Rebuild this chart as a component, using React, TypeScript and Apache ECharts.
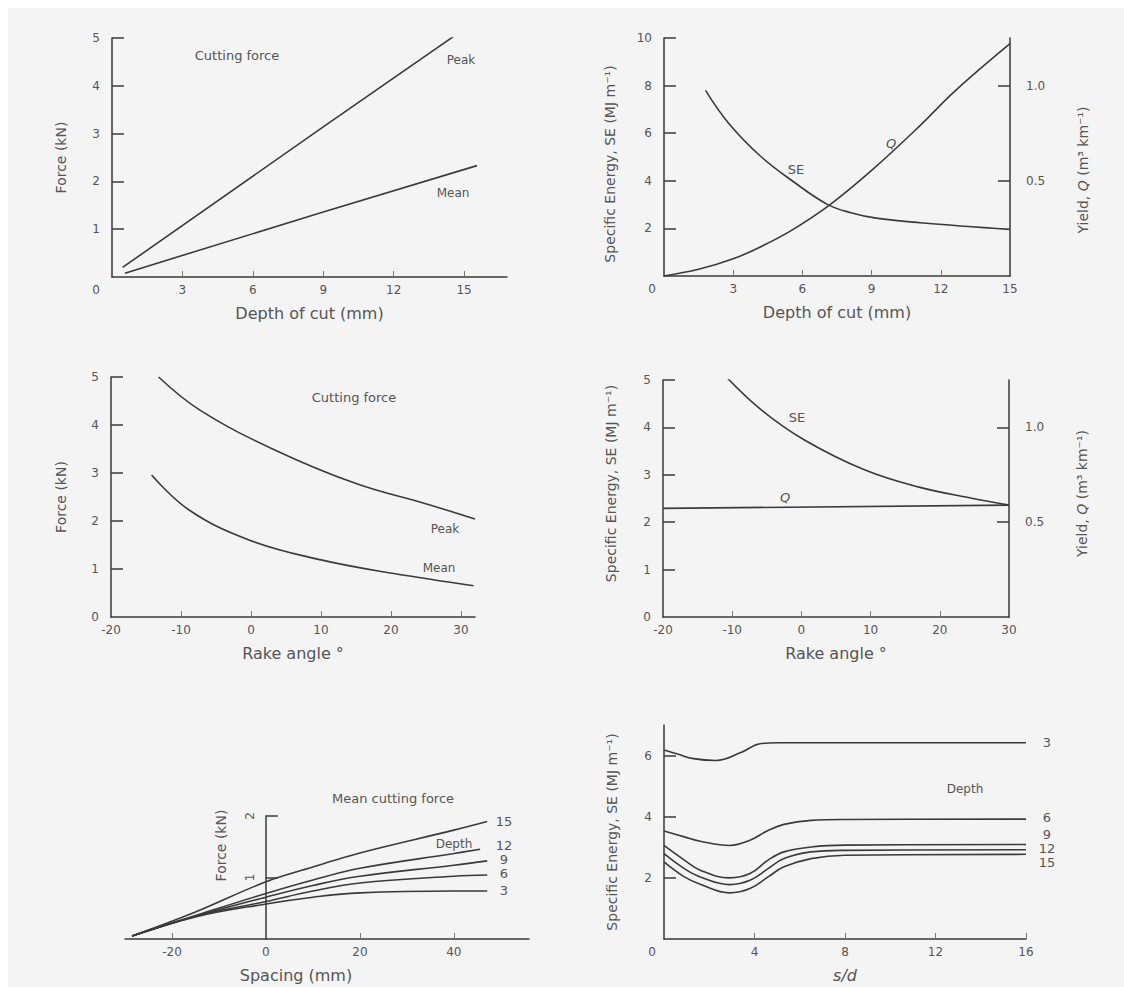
import React, { useEffect, useRef } from "react";
import * as echarts from "echarts";

const FONT = '"DejaVu Sans", "Liberation Sans", sans-serif';
const INK = "#3a3a3a";
const TEXT = "#555555";
const BG = "#f4f4f4";

// Panel A – cutting force vs depth of cut
const depthPeakX = [0.45, 9, 14.75];
const depthPeakY = [0.2, 3.14, 5.1];
const depthMeanX = [0.55, 9, 15.55];
const depthMeanY = [0.08, 1.36, 2.33];

// Panel B – specific energy & yield vs depth of cut
const depthSEX = [1.8, 2.8, 4.2, 5.6, 7.1, 8.1, 9.2, 11.1, 15];
const depthSEY = [7.8, 6.42, 5.02, 3.97, 3.0, 2.66, 2.43, 2.24, 1.96];
const depthQX = [0, 1.5, 3, 4.3, 5.6, 7.2, 9.05, 11.1, 12.6, 15];
const depthQY = [0, 0.035, 0.09, 0.16, 0.245, 0.375, 0.56, 0.79, 0.97, 1.22];

// Panel C – cutting force vs rake angle
const rakePeakX = [-13.2, -7.3, 3.4, 15, 25.2, 32];
const rakePeakY = [5.0, 4.31, 3.48, 2.78, 2.35, 2.04];
const rakeMeanX = [-14.2, -8.85, -0.2, 10, 20.2, 31.8];
const rakeMeanY = [2.96, 2.23, 1.6, 1.19, 0.91, 0.65];

// Panel D – specific energy & yield vs rake angle
const rakeSEX = [-11.1, -5.8, 0.5, 9.2, 17, 24.8, 30];
const rakeSEY = [5.1, 4.37, 3.73, 3.1, 2.74, 2.5, 2.36];
const rakeQX = [-20, 30];
const rakeQY = [0.573, 0.59];

// Panel E – mean cutting force vs spacing, by depth (mm)
const spacingX = [-28.5, -15, 0, 10, 20, 40, 47.1];
const spacingX12 = [-28.5, -15, 0, 10, 20, 40, 45.6];
const spacing15 = [0.05, 0.44, 0.93, 1.17, 1.4, 1.77, 1.91];
const spacing12 = [0.05, 0.38, 0.74, 0.96, 1.15, 1.39, 1.46];
const spacing9 = [0.05, 0.37, 0.68, 0.87, 1.02, 1.2, 1.27];
const spacing6 = [0.05, 0.37, 0.61, 0.78, 0.91, 1.02, 1.04];
const spacing3 = [0.05, 0.36, 0.57, 0.68, 0.75, 0.78, 0.78];

// Panel F – specific energy vs s/d, by depth (mm)
const sd3X = [0, 0.6, 1.3, 2.3, 3.4, 4.2, 5, 16];
const sd3Y = [6.18, 6.05, 5.9, 5.84, 6.1, 6.38, 6.42, 6.42];
const sdX = [0, 0.9, 1.6, 2.9, 3.8, 4.6, 5.3, 6.5, 8, 16];
const sd6Y = [3.53, 3.34, 3.2, 3.06, 3.23, 3.55, 3.75, 3.88, 3.91, 3.92];
const sd9Y = [3.06, 2.58, 2.25, 2.0, 2.14, 2.58, 2.85, 3.01, 3.07, 3.09];
const sd12Y = [2.79, 2.3, 2.03, 1.78, 1.92, 2.3, 2.63, 2.85, 2.9, 2.92];
const sd15Y = [2.52, 2.03, 1.79, 1.51, 1.65, 2.03, 2.36, 2.63, 2.74, 2.77];

const depthTicks = [0, 3, 6, 9, 12, 15];
const rakeTicks = [-20, -10, 0, 10, 20, 30];
const spacingTicks = [-20, 0, 20, 40];
const sdTicks = [0, 4, 8, 12, 16];

const pairs = (xs: number[], ys: number[]) => xs.map((x, i) => [x, ys[i]]);

const labelStyle = { color: TEXT, fontSize: 12, fontFamily: FONT };
const lineSt = { color: INK, width: 1.5 };

function xAxis(grid: number, min: number, max: number, labels: number[], ticks: number[], name: string, extra: any = {}) {
  return {
    type: "value",
    gridIndex: grid,
    min,
    max,
    name,
    nameLocation: "middle",
    nameGap: 28,
    nameTextStyle: { color: TEXT, fontSize: 16, fontFamily: FONT, ...(extra.nameTextStyle || {}) },
    splitLine: { show: false },
    axisLine: { show: true, onZero: false, lineStyle: lineSt },
    axisTick: { show: true, inside: true, length: 6, customValues: ticks, lineStyle: { color: "#777", width: 1 } },
    axisLabel: {
      ...labelStyle,
      margin: 7,
      customValues: labels,
      formatter: extra.zeroShift ? (v: number) => (v === 0 ? "{z|0}" : String(v)) : (v: number) => String(v),
      rich: extra.zeroShift ? { z: { ...labelStyle, padding: [0, extra.zeroShift, 0, 0] } } : undefined,
    },
  };
}

function yAxis(grid: number, min: number, max: number, labels: number[], ticks: number[], name: any, extra: any = {}) {
  return {
    type: "value",
    gridIndex: grid,
    position: extra.position || "left",
    offset: extra.offset || 0,
    min,
    max,
    name,
    nameLocation: "middle",
    nameGap: extra.nameGap ?? 44,
    nameTextStyle: {
      color: TEXT,
      fontSize: 14,
      fontFamily: FONT,
      padding: extra.namePadding,
      rich: {
        i: { fontStyle: "italic", color: TEXT, fontSize: 14, fontFamily: FONT },
      },
    },
    splitLine: { show: false },
    axisLine: { show: true, onZero: false, lineStyle: lineSt },
    axisTick: { show: true, inside: true, length: 12, customValues: ticks, lineStyle: lineSt },
    axisLabel: {
      ...labelStyle,
      margin: extra.labelMargin ?? 12,
      rotate: extra.rotate || 0,
      customValues: labels,
      formatter: extra.fixed ? (v: number) => v.toFixed(1) : (v: number) => String(v),
    },
  };
}

function line(name: string, xi: number, yi: number, data: number[][], smooth: any = 0.4) {
  return {
    type: "line",
    name,
    xAxisIndex: xi,
    yAxisIndex: yi,
    data,
    showSymbol: false,
    symbol: "none",
    smooth,
    lineStyle: { color: INK, width: 1.6 },
    itemStyle: { color: INK },
    silent: true,
  };
}

function label(x: number, y: number, text: string, size = 12, italic = false) {
  return {
    type: "text",
    x,
    y,
    style: {
      text,
      fill: TEXT,
      fontSize: size,
      fontFamily: FONT,
      fontStyle: italic ? "italic" : "normal",
      align: "center",
      verticalAlign: "middle",
    },
  };
}

const SE_NAME = "Specific Energy, SE (MJ m⁻¹)";
const Q_NAME = "Yield, {i|Q} (m³ km⁻¹)";

// Panel E grid: spacing -30..56 over 404 px, so the y axis sits where spacing = 0
const SPACING_MIN = -30;
const SPACING_MAX = 56;
const SPACING_W = 404;
const spacingAxisOffset = -((0 - SPACING_MIN) / (SPACING_MAX - SPACING_MIN)) * SPACING_W;

export default function App() {
  const ref = useRef<HTMLDivElement>(null);
  useEffect(() => {
    if (!ref.current) return;
    const chart = echarts.init(ref.current, null, { renderer: "svg" });
    const option: any = {
      animation: false,
      backgroundColor: BG,
      grid: [
        { left: 104, top: 30, width: 395, height: 239 },
        { left: 656, top: 30, width: 346, height: 238 },
        { left: 103, top: 369, width: 364, height: 240 },
        { left: 655, top: 372, width: 346, height: 237 },
        { left: 117, top: 808, width: SPACING_W, height: 123 },
        { left: 656, top: 717, width: 362, height: 214 },
      ],
      xAxis: [
        xAxis(0, 0, 16.83, depthTicks, [3, 6, 9, 12, 15], "Depth of cut (mm)", { zeroShift: 32 }),
        xAxis(1, 0, 15, depthTicks, [3, 6, 9, 12], "Depth of cut (mm)", { zeroShift: 24 }),
        xAxis(2, -20, 32, rakeTicks, [-10, 0, 10, 20, 30], "Rake angle °"),
        xAxis(3, -20, 30, rakeTicks, [-10, 0, 10, 20], "Rake angle °"),
        xAxis(4, SPACING_MIN, SPACING_MAX, spacingTicks, [-20, 20, 40], "Spacing (mm)", { nameTextStyle: { padding: [0, 62, 0, 0] } }),
        xAxis(5, 0, 16, sdTicks, [4, 8, 12, 16], "s/d", { zeroShift: 24, nameTextStyle: { fontStyle: "italic" } }),
      ],
      yAxis: [
        yAxis(0, 0, 5, [1, 2, 3, 4, 5], [1, 2, 3, 4, 5], "Force (kN)", { nameGap: 44 }),
        yAxis(1, 0, 10, [2, 4, 6, 8, 10], [2, 4, 6, 8, 10], SE_NAME, { nameGap: 47, namePadding: [0, 14, 0, 0] }),
        yAxis(1, 0, 1.25, [0.5, 1], [0.5, 1], Q_NAME, { position: "right", nameGap: 66, fixed: true, labelMargin: 16, namePadding: [0, 26, 0, 0] }),
        yAxis(2, 0, 5, [0, 1, 2, 3, 4, 5], [1, 2, 3, 4, 5], "Force (kN)", { nameGap: 43 }),
        yAxis(3, 0, 5, [0, 1, 2, 3, 4, 5], [1, 2, 3, 4, 5], SE_NAME, { nameGap: 45, namePadding: [0, 0, 0, 30] }),
        yAxis(3, 0, 1.25, [0.5, 1], [0.5, 1], Q_NAME, { position: "right", nameGap: 66, fixed: true, labelMargin: 16, namePadding: [0, 0, 0, 10] }),
        yAxis(4, 0, 2, [1, 2], [1, 2], "Force (kN)", { offset: spacingAxisOffset, rotate: 90, nameGap: 38, labelMargin: 10, namePadding: [0, 0, 0, 64] }),
        yAxis(5, 0, 7, [2, 4, 6], [2, 4, 6], SE_NAME, { nameGap: 45 }),
      ],
      series: [
        line("Peak", 0, 0, pairs(depthPeakX, depthPeakY), false),
        line("Mean", 0, 0, pairs(depthMeanX, depthMeanY), false),
        line("SE", 1, 1, pairs(depthSEX, depthSEY)),
        line("Q", 1, 2, pairs(depthQX, depthQY)),
        line("Peak", 2, 3, pairs(rakePeakX, rakePeakY)),
        line("Mean", 2, 3, pairs(rakeMeanX, rakeMeanY)),
        line("SE", 3, 4, pairs(rakeSEX, rakeSEY)),
        line("Q", 3, 5, pairs(rakeQX, rakeQY), false),
        line("15", 4, 6, pairs(spacingX, spacing15)),
        line("12", 4, 6, pairs(spacingX12, spacing12)),
        line("9", 4, 6, pairs(spacingX, spacing9)),
        line("6", 4, 6, pairs(spacingX, spacing6)),
        line("3", 4, 6, pairs(spacingX, spacing3)),
        line("3", 5, 7, pairs(sd3X, sd3Y)),
        line("6", 5, 7, pairs(sdX, sd6Y)),
        line("9", 5, 7, pairs(sdX, sd9Y)),
        line("12", 5, 7, pairs(sdX, sd12Y)),
        line("15", 5, 7, pairs(sdX, sd15Y)),
      ],
      graphic: [
        label(229, 47, "Cutting force", 13),
        label(453, 52, "Peak", 12),
        label(445, 185, "Mean", 12),
        label(788, 161, "SE", 13),
        label(883, 135, "Q", 13, true),
        label(346, 389, "Cutting force", 13),
        label(437, 521, "Peak", 12),
        label(431, 560, "Mean", 12),
        label(789, 409, "SE", 13),
        label(777, 489, "Q", 13, true),
        label(385, 790, "Mean cutting force", 13),
        label(446, 836, "Depth", 12),
        label(496, 813, "15", 13),
        label(496, 837, "12", 13),
        label(496, 851, "9", 13),
        label(496, 865, "6", 13),
        label(496, 882, "3", 13),
        label(957, 781, "Depth", 12),
        label(1039, 734, "3", 13),
        label(1039, 809, "6", 13),
        label(1039, 826, "9", 13),
        label(1039, 840, "12", 13),
        label(1039, 854, "15", 13),
      ],
    };
    chart.setOption(option);
    return () => chart.dispose();
  }, []);
  return (
    <div
      ref={ref}
      style={{ position: "absolute", left: 8, top: 8, width: 1116, height: 979, background: BG }}
    />
  );
}
